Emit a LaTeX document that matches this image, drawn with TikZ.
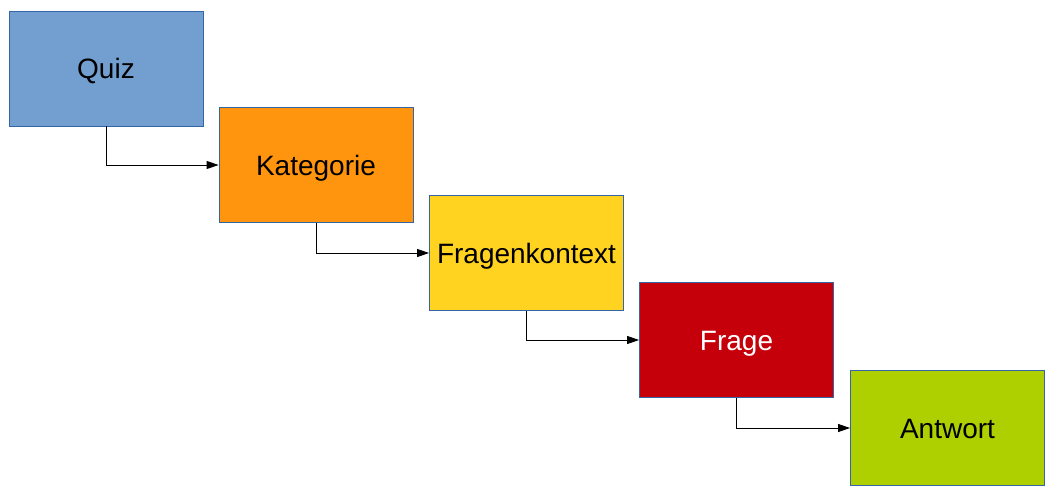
\documentclass[tikz,border=0pt]{standalone}
\usepackage{fontspec}
\setmainfont{Liberation Sans}
\usetikzlibrary{arrows.meta}
\definecolor{bordc}{HTML}{3465A4}
\definecolor{cquiz}{HTML}{729FCF}
\definecolor{ckat}{HTML}{FF950E}
\definecolor{cfk}{HTML}{FFD320}
\definecolor{cfrage}{HTML}{C5000B}
\definecolor{cant}{HTML}{AECF00}
\tikzset{
  box/.style={draw=bordc, line width=0.8pt, minimum width=194pt, minimum height=115pt, inner sep=0pt,
    font=\fontsize{28}{32}\selectfont, text=black, text depth=0pt, text height=20pt},
  conn/.style={draw=black, line width=0.9pt, -{Triangle[length=12pt,width=8pt]}}
}
\begin{document}
\begin{tikzpicture}[x=1pt,y=-1pt]
\useasboundingbox (0,0) rectangle (1056,498);
\node[box, fill=cquiz] (q) at (106,68.5) {Quiz};
\node[box, fill=ckat] (k) at (316,165) {Kategorie};
\node[box, fill=cfk] (fk) at (526.5,253) {Fragenkontext};
\node[box, fill=cfrage, text=white] (f) at (736.5,340) {Frage};
\node[box, fill=cant] (a) at (947.5,428) {Antwort};
\draw[conn] (q.south) |- (k.west);
\draw[conn] (k.south) |- (fk.west);
\draw[conn] (fk.south) |- (f.west);
\draw[conn] (f.south) |- (a.west);
\end{tikzpicture}
\end{document}
